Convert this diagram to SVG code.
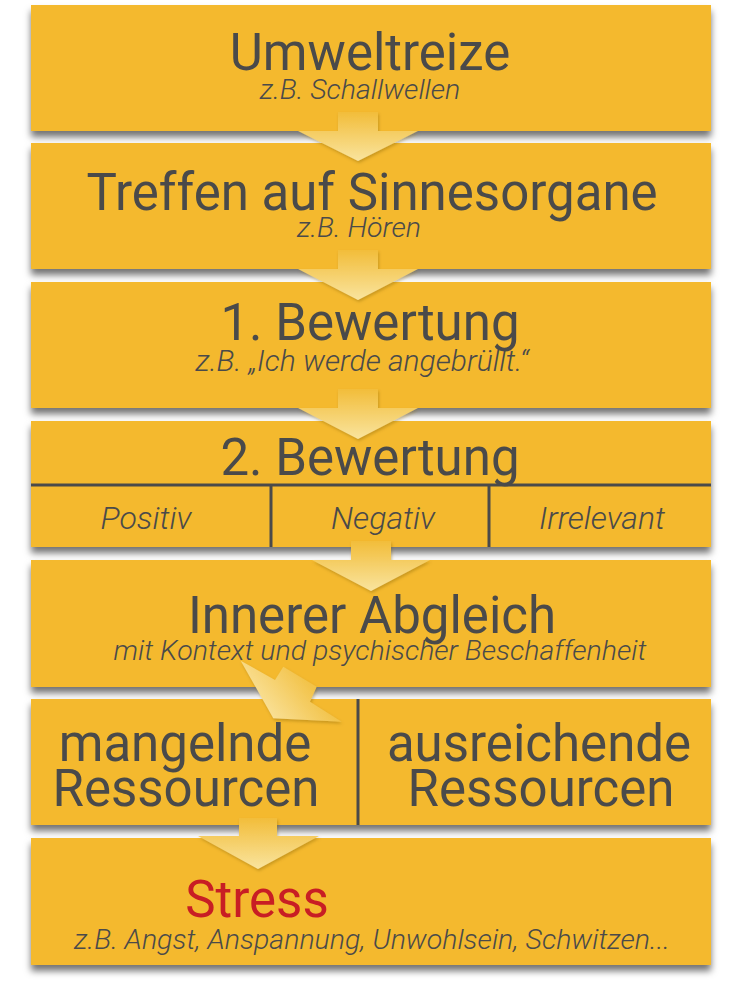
<svg xmlns="http://www.w3.org/2000/svg" width="732" height="981" viewBox="0 0 732 981">
<defs>
<filter id="sh" x="-5%" y="-10%" width="110%" height="130%">
<feDropShadow dx="0" dy="6" stdDeviation="3.5" flood-color="#000" flood-opacity="0.55"/>
</filter>
<filter id="ash" x="-20%" y="-20%" width="140%" height="150%">
<feDropShadow dx="1" dy="2" stdDeviation="1.5" flood-color="#7a5a00" flood-opacity="0.35"/>
</filter>
<linearGradient id="ag" x1="0" y1="0" x2="0" y2="1">
<stop offset="0" stop-color="#f2bd3a"/>
<stop offset="1" stop-color="#f9e49e"/>
</linearGradient>
<linearGradient id="dg" gradientUnits="userSpaceOnUse" x1="305" y1="672" x2="262" y2="706">
<stop offset="0" stop-color="#f2c144"/>
<stop offset="1" stop-color="#f9e096"/>
</linearGradient>
<style>
.box{fill:#f4b92f;filter:url(#sh)}
.t{font-family:Roboto,"Liberation Sans",sans-serif;font-size:51px;fill:#4a4a4a;text-anchor:middle}
.s{font-family:Roboto,"Liberation Sans",sans-serif;font-style:italic;font-weight:300;font-size:28.5px;fill:#4a4a4a;text-anchor:middle}
.c{font-size:32px}
.ln{stroke:#4a4a4a;stroke-width:3;fill:none}
.ar{fill:url(#ag);filter:url(#ash)}
</style>
</defs>
<g id="n1"><rect class="box" x="31" y="5" width="680" height="126"/>
<text class="t" x="370" y="70">Umweltreize</text>
<text class="s" x="360" y="99">z.B. Schallwellen</text></g>
<g id="n2"><rect class="box" x="31" y="143" width="680" height="126"/>
<text class="t" x="372" y="210">Treffen auf Sinnesorgane</text>
<text class="s" x="359" y="237">z.B. Hören</text></g>
<g id="n3"><rect class="box" x="31" y="282" width="680" height="126"/>
<text class="t" x="370" y="340">1. Bewertung</text>
<text class="s" x="362" y="371" style="font-size:30px">z.B. „Ich werde angebrüllt.“</text></g>
<g id="n4"><rect class="box" x="31" y="421" width="680" height="126"/>
<text class="t" x="370" y="475">2. Bewertung</text>
<line class="ln" x1="31" y1="485" x2="711" y2="485"/>
<line class="ln" x1="271" y1="485" x2="271" y2="547"/>
<line class="ln" x1="489" y1="485" x2="489" y2="547"/>
<text class="s c" x="146" y="529">Positiv</text>
<text class="s c" x="383" y="529">Negativ</text>
<text class="s c" x="602" y="529">Irrelevant</text></g>
<g id="n5"><rect class="box" x="31" y="560" width="680" height="127"/>
<text class="t" x="372" y="633">Innerer Abgleich</text>
<text class="s" x="380" y="660">mit Kontext und psychischer Beschaffenheit</text></g>
<g id="n6"><rect class="box" x="31" y="699" width="680" height="126"/>
<line class="ln" x1="358" y1="699" x2="358" y2="825"/>
<text class="t" x="185" y="761">mangelnde</text>
<text class="t" x="186" y="806">Ressourcen</text>
<text class="t" x="539" y="761">ausreichende</text>
<text class="t" x="541" y="806">Ressourcen</text></g>
<g id="n7"><rect class="box" x="31" y="838" width="680" height="127"/>
<text class="t" x="257" y="917" style="fill:#c81e24">Stress</text>
<text class="s" x="372" y="949">z.B. Angst, Anspannung, Unwohlsein, Schwitzen...</text></g>
<g id="connectors">
<polygon class="ar" points="338,112 378,112 378,131 418,131 358,161 298,131 338,131"/>
<polygon class="ar" points="338,250 378,250 378,269 418,269 358,300 298,269 338,269"/>
<polygon class="ar" points="338,389 378,389 378,408 418,408 358,439 298,408 338,408"/>
<polygon class="ar" points="351,541 391,541 391,560 430,560 371,591 312,560 351,560"/>
<polygon fill="url(#dg)" filter="url(#ash)" points="240.7,660.7 275,680 283.3,666.7 316.7,686.7 310,701.7 341.7,721.7 273.3,718.3"/>
<polygon class="ar" points="239,818 277,818 277,836 319,836 258,869 198,836 239,836"/>
</g>
</svg>
